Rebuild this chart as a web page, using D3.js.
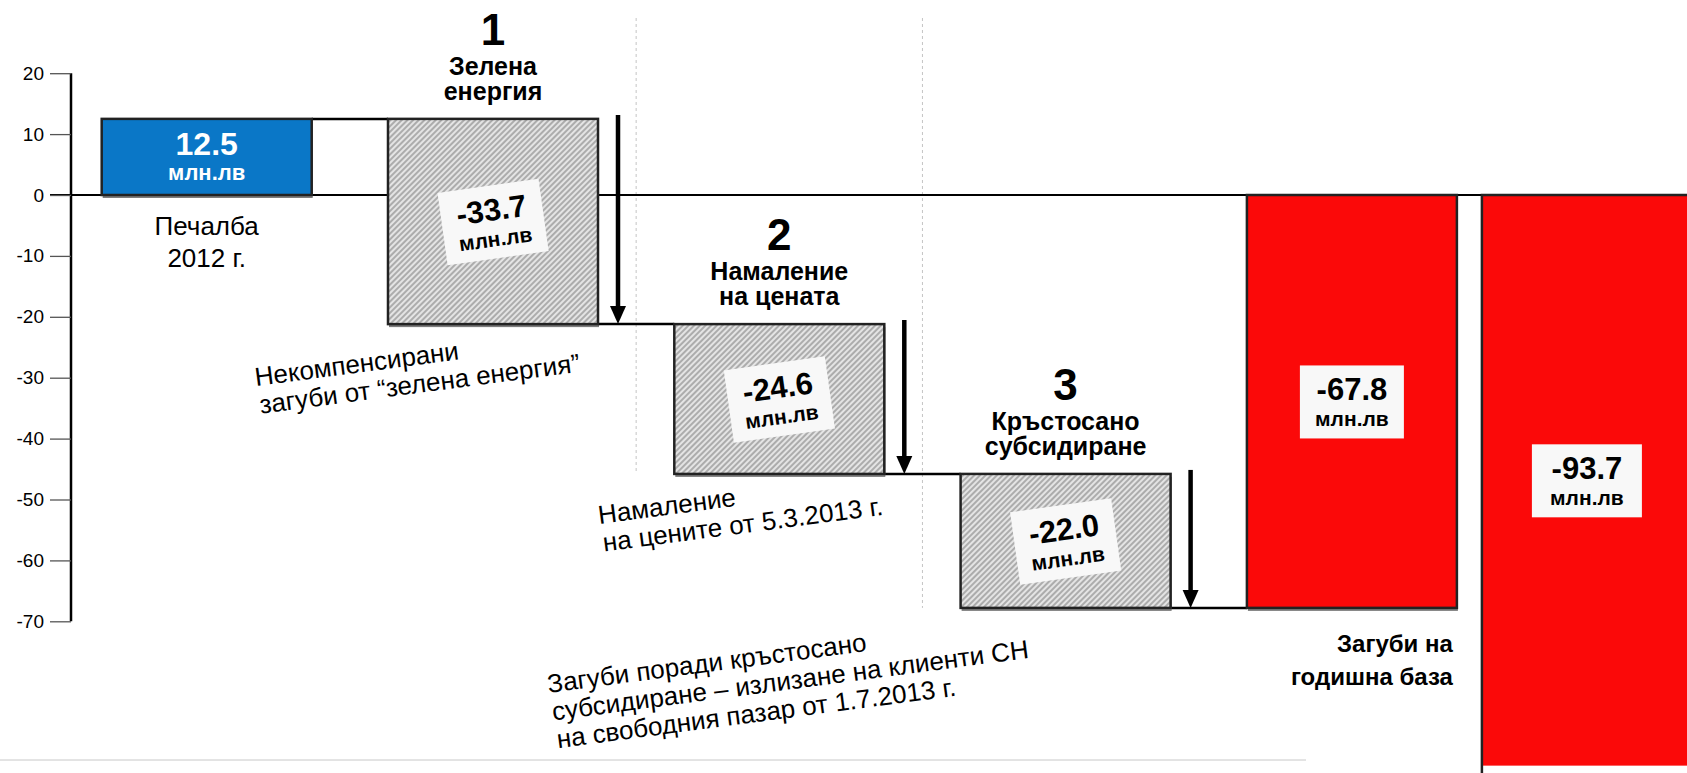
<!DOCTYPE html>
<html><head><meta charset="utf-8">
<script src="https://cdn.jsdelivr.net/npm/d3@7"></script>
<style>
html,body{margin:0;padding:0;background:#fff;}
svg{display:block;font-family:"Liberation Sans",Arial,Helvetica,sans-serif;}
</style></head><body>
<svg id="chart" width="1687" height="773"></svg>
<script>
// ---------- data ----------
const categories = ["Печалба 2012 г.", "Зелена енергия", "Намаление на цената", "Кръстосано субсидиране", "Загуби 2013 г.", "Загуби на годишна база"];
const values = [12.5, -33.7, -24.6, -22.0, -67.8, -93.7];
const kinds = ["profit", "delta", "delta", "delta", "total", "total"];
const stepNumbers = ["", "1", "2", "3", "", ""];
const stepTitles = [[], ["Зелена", "енергия"], ["Намаление", "на цената"], ["Кръстосано", "субсидиране"], [], []];
const unitLabel = "млн.лв";
const yTicks = [20, 10, 0, -10, -20, -30, -40, -50, -60, -70];
const profitCaption = ["Печалба", "2012 г."];
const totalCaption = ["Загуби на", "годишна база"];
const notes = [
  ["Некомпенсирани", "загуби от “зелена енергия”"],
  ["Намаление", "на цените от 5.3.2013 г."],
  ["Загуби поради кръстосано", "субсидиране – излизане на клиенти СН", "на свободния пазар от 1.7.2013 г."]
];

// ---------- layout ----------
const W = 1687, H = 773;
const colors = {profit: "#0a77c7", total: "#fb0909"};
const noteOffsets = [{dx: -132, dy: 62}, {dx: -75, dy: 50}, {dx: -412, dy: 85}];
const loc = d3.formatLocale({decimal: ".", thousands: ",", grouping: [3], currency: ["", ""], minus: "-"});
const fmt1 = loc.format(".1f"), fmt0 = loc.format("d");

const svg = d3.select("#chart");
const y = d3.scaleLinear().domain([-70, 20]).range([621.3, 73.2]);
const mainCats = categories.slice(0, 5);
const x = d3.scaleBand().domain(mainCats).range([101.7, 1456.9]).paddingInner(0.2665).paddingOuter(0);
const bw = x.bandwidth();
const pairGap = 25;
const xPos = i => i < 5 ? x(categories[i]) : x(categories[4]) + bw + pairGap;

let cum = 0;
const bars = values.map((v, i) => {
  let s, e;
  if (kinds[i] === "total") { s = 0; e = v; }
  else { s = cum; e = cum + v; cum = e; }
  return {i, v, s, e, kind: kinds[i], x: xPos(i), cx: xPos(i) + bw / 2};
});

// ---------- defs ----------
const defs = svg.append("defs");
const pat = defs.append("pattern").attr("id", "hatch").attr("patternUnits", "userSpaceOnUse")
  .attr("width", 4).attr("height", 4).attr("patternTransform", "rotate(45)");
pat.append("rect").attr("width", 4).attr("height", 4).attr("fill", "#e4e4e4");
pat.append("line").attr("x1", 1).attr("x2", 1).attr("y1", 0).attr("y2", 4)
  .attr("stroke", "#9e9e9e").attr("stroke-width", 1.6);

svg.append("rect").attr("width", W).attr("height", H).attr("fill", "#fff");

// decorative bottom separator
svg.append("line").attr("x1", 0).attr("x2", 1306).attr("y1", H - 13).attr("y2", H - 13)
  .attr("stroke", "#c8c8c8").attr("stroke-width", 1);

// dashed separators between steps
for (let i = 1; i < bars.length - 1; i++) {
  if (bars[i].kind === "delta" && bars[i + 1].kind === "delta") {
    const gx = (bars[i].x + bw + bars[i + 1].x) / 2;
    svg.append("line").attr("x1", gx).attr("x2", gx).attr("y1", 18).attr("y2", y(bars[i + 1].e))
      .attr("stroke", "#c4c4c4").attr("stroke-width", 1).attr("stroke-dasharray", "3,3");
  }
}

// zero line
svg.append("line").attr("x1", 50).attr("x2", W).attr("y1", y(0)).attr("y2", y(0))
  .attr("stroke", "#000").attr("stroke-width", 2);

// axis
const axis = svg.append("g").attr("transform", "translate(71,0)")
  .call(d3.axisLeft(y).tickValues(yTicks).tickSize(21).tickPadding(6).tickFormat(fmt0));
axis.select(".domain").attr("stroke", "#000").attr("stroke-width", 2.5)
  .attr("d", `M0,${y(20)}V${y(-70)}`);
axis.selectAll(".tick line").attr("stroke", "#555").attr("stroke-width", 1.3);
axis.selectAll(".tick text").attr("font-size", 19).attr("fill", "#000")
  .attr("font-family", "Liberation Sans, Arial, sans-serif");

// connectors
for (let i = 0; i < 4; i++) {
  svg.append("line").attr("x1", bars[i].x + bw).attr("x2", bars[i + 1].x)
    .attr("y1", y(bars[i].e)).attr("y2", y(bars[i].e))
    .attr("stroke", "#000").attr("stroke-width", 2.5);
}

// shadows
svg.append("g").selectAll("rect").data(bars).join("rect")
  .attr("x", d => d.x + 1).attr("y", d => y(Math.max(d.s, d.e)) + 3)
  .attr("width", bw).attr("height", d => Math.abs(y(d.s) - y(d.e)))
  .attr("fill", "#666").attr("opacity", d => d.i === 5 ? 0 : 0.85);

// bars
svg.append("g").selectAll("rect").data(bars).join("rect")
  .attr("x", d => d.x).attr("y", d => y(Math.max(d.s, d.e)))
  .attr("width", bw).attr("height", d => Math.abs(y(d.s) - y(d.e)))
  .attr("fill", d => d.kind === "delta" ? "url(#hatch)" : colors[d.kind])
  .attr("stroke", d => d.i === 5 ? "none" : "#222").attr("stroke-width", 2.5);
// last bar: outline on three sides only (runs off the page)
{
  const d = bars[5];
  svg.append("path")
    .attr("d", `M${d.x},${y(d.e) + 20}V${y(0)}H${d.x + bw}`)
    .attr("fill", "none").attr("stroke", "#222").attr("stroke-width", 2.5);
}

// arrows
bars.filter(d => d.kind === "delta").forEach(d => {
  const ax = d.x + bw + 20;
  const ye = y(d.e);
  svg.append("line").attr("x1", ax).attr("x2", ax).attr("y1", y(d.s) - 4).attr("y2", ye - 15)
    .attr("stroke", "#000").attr("stroke-width", 4.5);
  svg.append("path").attr("d", `M${ax - 8},${ye - 18}L${ax + 8},${ye - 18}L${ax},${ye}Z`).attr("fill", "#000");
});

// value labels
bars.forEach(d => {
  const cy = (y(d.s) + y(d.e)) / 2;
  if (d.kind === "profit") {
    const g = svg.append("g").attr("transform", `translate(${d.cx},${cy})`)
      .attr("text-anchor", "middle").attr("font-weight", "bold").attr("fill", "#fff");
    g.append("text").attr("y", -2).attr("font-size", 32).text(fmt1(d.v));
    g.append("text").attr("y", 23).attr("font-size", 22).text(unitLabel);
  } else {
    const last = d.i === 5;
    const yc = last ? y(d.e / 2) : cy;
    const g = svg.append("g")
      .attr("transform", `translate(${d.cx},${yc})` + (d.kind === "delta" ? " rotate(-8)" : ""))
      .attr("text-anchor", "middle").attr("font-weight", "bold").attr("fill", "#000");
    const bwid = last ? 110 : (d.kind === "total" ? 104 : 102);
    g.append("rect").attr("x", -bwid / 2).attr("y", -36).attr("width", bwid).attr("height", 73)
      .attr("fill", "#f8f8f8");
    g.append("text").attr("y", -1).attr("font-size", 31).text(fmt1(d.v));
    g.append("text").attr("y", 25).attr("font-size", 21).text(unitLabel);
  }
});

// step headers
bars.forEach(d => {
  if (!stepNumbers[d.i]) return;
  const top = y(d.s);
  const g = svg.append("g").attr("text-anchor", "middle").attr("font-weight", "bold").attr("fill", "#000");
  g.append("text").attr("x", d.cx).attr("y", top - 74).attr("font-size", 44).text(stepNumbers[d.i]);
  stepTitles[d.i].forEach((t, k) => {
    g.append("text").attr("x", d.cx).attr("y", top - 44 + k * 25).attr("font-size", 25).text(t);
  });
});

// captions
{
  const g = svg.append("g").attr("text-anchor", "middle").attr("font-size", 26).attr("fill", "#000");
  profitCaption.forEach((t, k) => g.append("text").attr("x", bars[0].cx).attr("y", y(0) + 40 + k * 32).text(t));
  const g2 = svg.append("g").attr("text-anchor", "end").attr("font-size", 24).attr("font-weight", "bold").attr("fill", "#000");
  totalCaption.forEach((t, k) => g2.append("text").attr("x", bars[4].x + bw - 4).attr("y", y(bars[4].e) + 44 + k * 33).text(t));
}

// rotated notes
notes.forEach((lines, k) => {
  const d = bars[k + 1];
  const o = noteOffsets[k];
  const g = svg.append("g").attr("transform", `translate(${d.x + o.dx},${y(d.e) + o.dy}) rotate(-7.5)`);
  const t = g.append("text").attr("font-size", 26).attr("fill", "#000");
  lines.forEach((l, j) => t.append("tspan").attr("x", j * 1).attr("y", j * 28).text(l));
});
</script>
</body></html>
